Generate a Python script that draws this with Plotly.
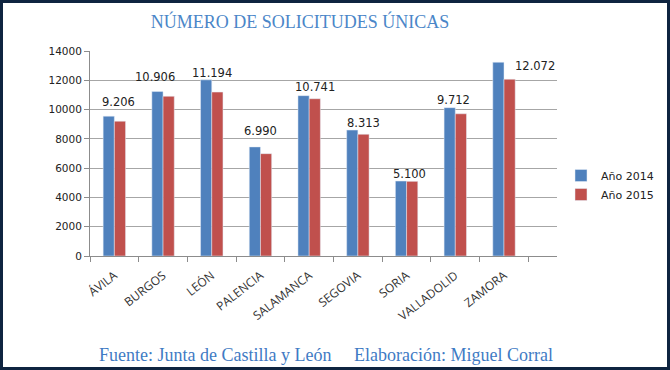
import plotly.graph_objects as go

provincias = ["ÁVILA", "BURGOS", "LEÓN", "PALENCIA", "SALAMANCA", "SEGOVIA", "SORIA", "VALLADOLID", "ZAMORA"]
anio_2014 = [9550, 11230, 12030, 7450, 10950, 8600, 5120, 10130, 13230]
anio_2015 = [9206, 10906, 11194, 6990, 10741, 8313, 5100, 9712, 12072]
etiquetas_2015 = ["9.206", "10.906", "11.194", "6.990", "10.741", "8.313", "5.100", "9.712", "12.072"]
y_ticks = [0, 2000, 4000, 6000, 8000, 10000, 12000, 14000]

# label placement offsets (pixels) relative to the 2015 bar top / category centre
label_dx = [4, -8, 0, 0, 6, 6, 3, -2, 31]
label_dy = [19, 19, 19, 23, 12, 11, 7, 14, 13]

W, H = 670, 370
L, R, T, B = 90, 113, 51, 114
PW, PH = W - L - R, H - T - B

BLUE = "#4F81BD"
RED = "#C0504D"

fig = go.Figure()
fig.add_trace(go.Bar(x=provincias, y=anio_2014, name="Año 2014", marker_color=BLUE))
fig.add_trace(go.Bar(x=provincias, y=anio_2015, name="Año 2015", marker_color=RED))

for p, v, t, dx, dy in zip(provincias, anio_2015, etiquetas_2015, label_dx, label_dy):
    fig.add_annotation(x=p, y=v, text=t, showarrow=False, xshift=dx, yshift=dy,
                       yanchor="middle", font=dict(family="DejaVu Sans", size=11.5, color="#222"))

fy = -(355 - (T + PH)) / PH
fig.add_annotation(x=(97 - L) / PW, y=fy, xref="paper", yref="paper",
                   text="Fuente: Junta de Castilla y León", showarrow=False, xanchor="left", yanchor="middle",
                   font=dict(family="Liberation Serif", size=18, color="#3F7BC4"))
fig.add_annotation(x=(352 - L) / PW, y=fy, xref="paper", yref="paper",
                   text="Elaboración: Miguel Corral", showarrow=False, xanchor="left", yanchor="middle",
                   font=dict(family="Liberation Serif", size=18, color="#3F7BC4"))

fig.add_shape(type="rect", xref="paper", yref="paper",
              x0=-(L - 1.5) / PW, x1=1 + (R - 1.5) / PW,
              y0=-(B - 1.5) / PH, y1=1 + (T - 1.5) / PH,
              line=dict(color="#0E2440", width=3), fillcolor="rgba(0,0,0,0)")

fig.update_layout(
    width=W, height=H,
    margin=dict(l=L, r=R, t=T, b=B, autoexpand=False),
    paper_bgcolor="white", plot_bgcolor="white",
    barmode="group", bargap=0.54, bargroupgap=0,
    title=dict(text="NÚMERO DE SOLICITUDES ÚNICAS", x=300 / W, xanchor="center",
               y=1 - 22 / H, yanchor="middle",
               font=dict(family="Liberation Serif", size=18, color="#4A86C8")),
    legend=dict(x=(561 - L) / PW, y=(256 - 185) / PH, xanchor="left", yanchor="middle",
                font=dict(family="DejaVu Sans", size=11, color="#222"),
                bgcolor="rgba(0,0,0,0)", tracegroupgap=4, itemwidth=30),
    showlegend=True,
)
fig.update_xaxes(showline=True, linecolor="#8C8C8C", linewidth=1, ticks="outside", tickson="boundaries",
                 ticklen=5, tickcolor="#8C8C8C", tickangle=-38, ticklabelstandoff=7,
                 tickfont=dict(family="Open Sans", size=12, color="#333"))
fig.update_yaxes(range=[0, 14000], tickvals=y_ticks, ticktext=[str(v) for v in y_ticks],
                 showline=True, linecolor="#8C8C8C", linewidth=1, ticks="outside", ticklen=5,
                 tickcolor="#8C8C8C", showgrid=True, gridcolor="#A6A6A6", gridwidth=1,
                 zeroline=False,
                 tickfont=dict(family="DejaVu Sans", size=10.5, color="#222"))

fig.write_html("out.html", config={"displayModeBar": False},
               post_script="document.body.style.margin='0px';document.body.style.overflow='hidden';")
